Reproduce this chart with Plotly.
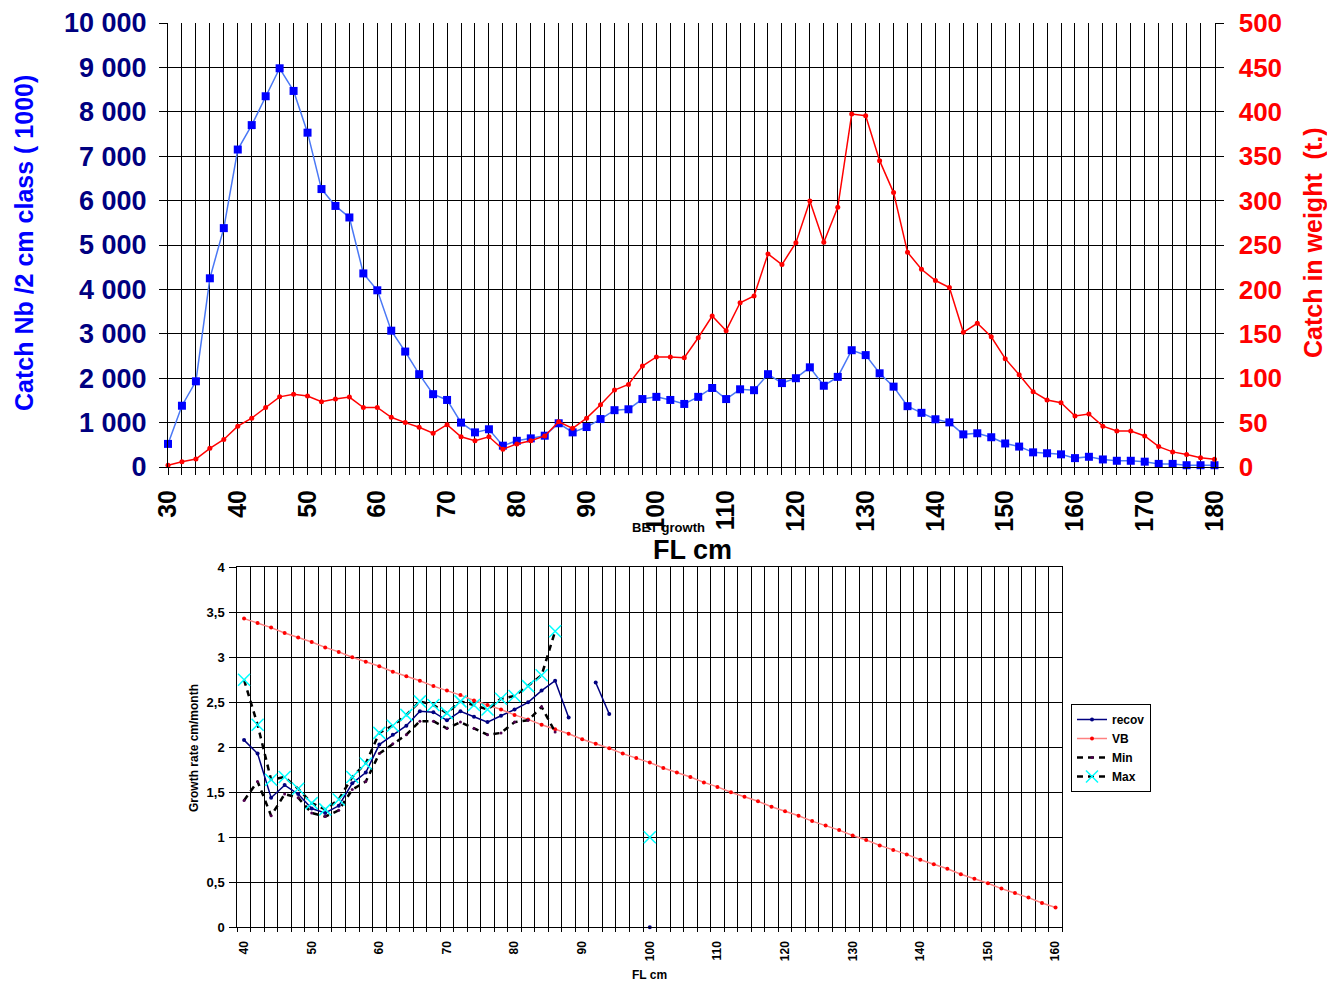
import plotly.graph_objects as go

W, H = 1327, 982

# ---------------- data: top chart ----------------
fl_top = list(range(30, 182, 2))
catch_nb = [520, 1380, 1930, 4250, 5380, 7150, 7700, 8350, 8980, 8470,
            7530, 6260, 5880, 5620, 4360, 3980, 3070, 2600, 2090, 1640,
            1510, 1000, 780, 850, 480, 590, 645, 705, 985, 780,
            900, 1080, 1280, 1300, 1530, 1580, 1510, 1420, 1580, 1780,
            1530, 1750, 1730, 2090, 1890, 2000, 2245, 1830, 2030, 2630,
            2520, 2110, 1810, 1370, 1220, 1075, 1005, 735, 760, 670,
            530, 460, 330, 310, 285, 200, 230, 170, 140, 140,
            120, 70, 70, 40, 40, 40]
catch_wt = [2, 6, 9, 21, 31, 46, 55, 67, 79, 82,
            80, 73.5, 76.6, 78.8, 67, 67, 56, 50, 44.7, 38,
            47.6, 34, 29.6, 34, 20, 26, 29.6, 35, 51, 43.5,
            55, 70, 86.7, 93, 113.7, 124, 124, 123, 145.6, 170,
            153.5, 185, 192.6, 240, 228, 252.6, 299.5, 253, 292.4, 397.5,
            395.6, 345, 309, 241.8, 222.6, 210, 202, 151.7, 161.8, 146.7,
            122, 104, 84.8, 75.5, 72.4, 57.4, 59.7, 46, 40.5, 40.5,
            35, 23, 17, 14, 10.5, 8.7]
top_xticks = list(range(30, 190, 10))
left_tickvals = list(range(0, 11000, 1000))
left_ticktext = ["0", "1 000", "2 000", "3 000", "4 000", "5 000",
                 "6 000", "7 000", "8 000", "9 000", "10 000"]
right_tickvals = list(range(0, 550, 50))

# ---------------- data: bottom chart ----------------
fl_bot = list(range(40, 162, 2))
vb = [3.43, 3.38, 3.33, 3.27, 3.22, 3.17, 3.11, 3.06, 3.00, 2.95,
      2.90, 2.84, 2.79, 2.74, 2.68, 2.63, 2.58, 2.52, 2.47, 2.42,
      2.36, 2.31, 2.25, 2.20, 2.15, 2.09, 2.04, 1.99, 1.93, 1.88,
      1.83, 1.77, 1.72, 1.67, 1.61, 1.56, 1.50, 1.45, 1.40, 1.34,
      1.29, 1.24, 1.18, 1.13, 1.08, 1.02, 0.97, 0.91, 0.86, 0.81,
      0.75, 0.70, 0.65, 0.59, 0.54, 0.49, 0.43, 0.38, 0.33, 0.27, 0.22]
recov_fl = list(range(40, 90, 2)) + [90, 92, 94, 96, 100]
recov = [2.08, 1.93, 1.44, 1.58, 1.48, 1.32, 1.27, 1.35, 1.60, 1.72,
         2.03, 2.14, 2.24, 2.40, 2.39, 2.30, 2.40, 2.34, 2.28, 2.35,
         2.42, 2.50, 2.63, 2.74, 2.33, None, 2.72, 2.37, None, 0.0]
minmax_fl = list(range(40, 88, 2))
gmin = [1.41, 1.62, 1.24, 1.48, 1.44, 1.27, 1.23, 1.30, 1.53, 1.62,
        1.93, 2.04, 2.14, 2.29, 2.29, 2.21, 2.28, 2.21, 2.14, 2.16,
        2.28, 2.30, 2.45, 2.17]
max_fl = list(range(40, 88, 2)) + [88, 100]
gmax = [2.75, 2.25, 1.64, 1.67, 1.54, 1.38, 1.31, 1.42, 1.67, 1.82,
        2.16, 2.24, 2.36, 2.51, 2.47, 2.38, 2.51, 2.47, 2.42, 2.54,
        2.57, 2.68, 2.80, 3.29, None, 1.00]
bot_xticks = list(range(40, 170, 10))
bot_yvals = [0, 0.5, 1, 1.5, 2, 2.5, 3, 3.5, 4]
bot_ytext = ["0", "0,5", "1", "1,5", "2", "2,5", "3", "3,5", "4"]

FONT = "Liberation Sans, Arial, sans-serif"


def px(x):
    return x / W


def py(y):
    return 1 - y / H


fig = go.Figure()

fig.add_trace(go.Scatter(x=fl_top, y=catch_nb, xaxis="x", yaxis="y",
                         mode="lines+markers", showlegend=False, cliponaxis=False,
                         line=dict(color="#4A78F5", width=1.5),
                         marker=dict(symbol="square", size=8, color="#0000FF")))
fig.add_trace(go.Scatter(x=fl_top, y=catch_wt, xaxis="x", yaxis="y2",
                         mode="lines+markers", showlegend=False, cliponaxis=False,
                         line=dict(color="#FF0000", width=1.5),
                         marker=dict(symbol="circle", size=5, color="#FF0000")))

fig.add_trace(go.Scatter(x=recov_fl, y=recov, xaxis="x2", yaxis="y3", name="recov",
                         mode="lines+markers", connectgaps=False, cliponaxis=False,
                         line=dict(color="#000080", width=1.5),
                         marker=dict(symbol="circle", size=4, color="#000080")))
fig.add_trace(go.Scatter(x=fl_bot, y=vb, xaxis="x2", yaxis="y3", name="VB",
                         mode="lines+markers", cliponaxis=False,
                         line=dict(color="#FF8080", width=1.5),
                         marker=dict(symbol="circle", size=4, color="#FF0000")))
fig.add_trace(go.Scatter(x=minmax_fl, y=gmin, xaxis="x2", yaxis="y3", name="Min",
                         mode="lines+markers", cliponaxis=False,
                         line=dict(color="#000000", width=2.5, dash="6px,5px"),
                         marker=dict(symbol="circle", size=3, color="#500050")))
fig.add_trace(go.Scatter(x=max_fl, y=gmax, xaxis="x2", yaxis="y3", name="Max",
                         mode="lines+markers", connectgaps=False, cliponaxis=False,
                         line=dict(color="#000000", width=2.5, dash="6px,5px"),
                         marker=dict(symbol="x-thin-open", size=12, color="#00FFFF",
                                     line=dict(color="#00FFFF", width=1.5))))

bold = dict(family=FONT, weight="bold")

fig.update_layout(
    template="none",
    width=W, height=H,
    margin=dict(l=0, r=0, t=0, b=0, autoexpand=False),
    paper_bgcolor="white", plot_bgcolor="white",
    font=dict(family=FONT, color="black"),
    xaxis=dict(domain=[px(168), px(1214.5)], anchor="y", range=[30, 180],
               automargin=False,
               tickmode="linear", tick0=30, dtick=10, tickangle=-90,
               tickfont=dict(size=25, color="black", **bold),
               showgrid=True, gridcolor="#000000", gridwidth=1,
               ticks="outside", ticklen=7, tickcolor="#000000",
               ticklabelstandoff=5,
               minor=dict(tick0=30, dtick=2, showgrid=True, gridcolor="#000000",
                          gridwidth=1, ticks="outside", ticklen=7, tickcolor="#000000"),
               showline=True, linecolor="#000000", linewidth=1, zeroline=False),
    yaxis=dict(domain=[py(467), py(23)], anchor="x", range=[0, 10000],
               automargin=False,
               tickvals=left_tickvals, ticktext=left_ticktext,
               tickfont=dict(size=27, color="#000080", **bold),
               showgrid=True, gridcolor="#000000", gridwidth=1,
               ticks="outside", ticklen=8, tickcolor="#000000",
               ticklabelstandoff=7,
               showline=True, linecolor="#000000", linewidth=1, zeroline=False),
    yaxis2=dict(overlaying="y", anchor="x", side="right", range=[0, 500],
                automargin=False,
                tickvals=right_tickvals,
                tickfont=dict(size=26, color="#FF0000", **bold),
                showgrid=False, ticks="outside", ticklen=8, tickcolor="#000000",
                ticklabelstandoff=10,
                showline=True, linecolor="#000000", linewidth=1, zeroline=False),
    xaxis2=dict(domain=[px(237.3), px(1062.3)], anchor="y3", range=[39, 161],
                automargin=False,
                tickvals=bot_xticks, tickangle=-90,
                tickfont=dict(size=12, color="black", **bold),
                showgrid=False, ticks="", ticklabelstandoff=8,
                minor=dict(tick0=39, dtick=2, showgrid=True, gridcolor="#000000",
                           gridwidth=1, ticks="outside", ticklen=4, tickcolor="#000000"),
                showline=True, mirror=True, linecolor="#000000", linewidth=1,
                zeroline=False),
    yaxis3=dict(domain=[py(927.3), py(567.3)], anchor="x2", range=[0, 4],
                automargin=False,
                tickvals=bot_yvals, ticktext=bot_ytext,
                tickfont=dict(size=13, color="black", **bold),
                showgrid=True, gridcolor="#000000", gridwidth=1,
                ticks="outside", ticklen=7, tickcolor="#000000",
                ticklabelstandoff=2,
                showline=True, mirror=True, linecolor="#000000", linewidth=1,
                zeroline=False),
    legend=dict(x=px(1071), y=py(704), xanchor="left", yanchor="top",
                bgcolor="white", bordercolor="#000000", borderwidth=1,
                font=dict(size=12, color="black", **bold),
                tracegroupgap=0, itemsizing="trace"),
    showlegend=True,
)

annos = [
    dict(text="Catch Nb /2 cm class ( 1000)", x=px(24), y=py(243), textangle=-90,
         font=dict(size=25, color="#0000FF", **bold)),
    dict(text="Catch in weight  (t.)", x=px(1313), y=py(243), textangle=-90,
         font=dict(size=25, color="#FF0000", **bold)),
    dict(text="BET growth", x=px(668), y=py(527), font=dict(size=13, color="black", **bold)),
    dict(text="FL cm", x=px(692), y=py(550), font=dict(size=27, color="black", **bold)),
    dict(text="Growth rate cm/month", x=px(194), y=py(748), textangle=-90,
         font=dict(size=12, color="black", **bold)),
    dict(text="FL cm", x=px(649), y=py(975), font=dict(size=12, color="black", **bold)),
]
for a in annos:
    fig.add_annotation(xref="paper", yref="paper", showarrow=False,
                       xanchor="center", yanchor="middle", **a)

fig.write_html("out.html")
